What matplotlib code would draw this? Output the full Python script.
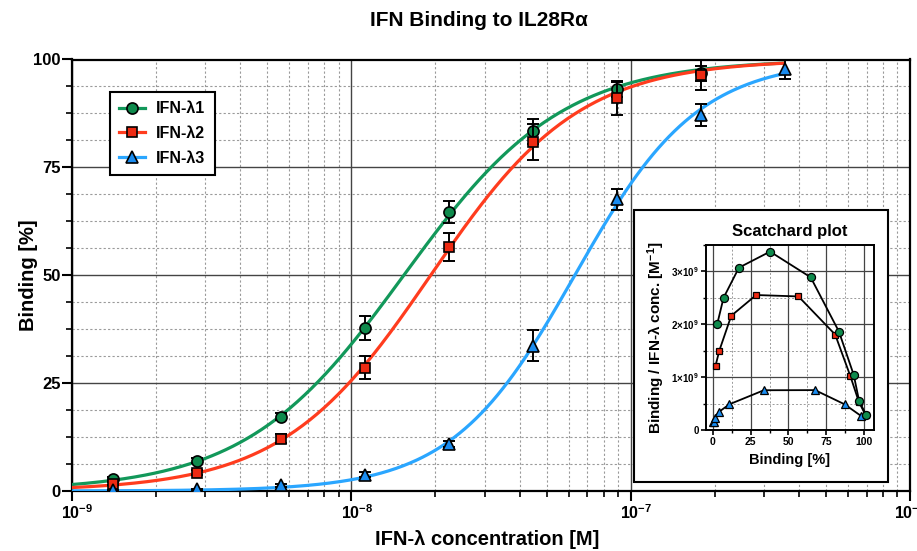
import numpy as np
import matplotlib
matplotlib.use('Agg')
import matplotlib.pyplot as plt
from matplotlib.lines import Line2D
from matplotlib.patches import Rectangle
from matplotlib.transforms import ScaledTranslation
from matplotlib.ticker import (LogLocator, MultipleLocator, NullFormatter,
                               FixedLocator, FixedFormatter)

plt.rcParams.update({
    'font.family': ['Liberation Sans', 'DejaVu Sans'],
    'font.weight': 'bold',
    'mathtext.fontset': 'custom',
    'mathtext.rm': 'Liberation Sans:bold',
    'mathtext.bf': 'Liberation Sans:bold',
    'mathtext.it': 'Liberation Sans:bold:italic',
    'mathtext.sf': 'Liberation Sans:bold',
})

# ---------------- data ----------------
conc = np.array([1.4e-9, 2.8e-9, 5.6e-9, 1.12e-8, 2.24e-8, 4.48e-8, 8.96e-8, 1.79e-7, 3.58e-7])
ifn_l1 = np.array([2.8, 7.0, 17.2, 37.8, 64.7, 83.4, 93.2, 96.8, 101.5])
ifn_l2 = np.array([1.7, 4.2, 12.1, 28.6, 56.6, 80.9, 91.0, 96.5, 101.0])
ifn_l3 = np.array([0.2, 0.4, 1.3, 3.8, 10.9, 33.7, 67.6, 87.1, 97.7])
err_l1 = np.array([0.5, 0.6, 0.8, 2.7, 2.5, 2.9, 1.9, 1.8, 0.0])
err_l2 = np.array([0.4, 0.6, 1.0, 2.6, 3.2, 4.2, 3.8, 3.5, 0.0])
err_l3 = np.array([0.1, 0.1, 0.3, 0.5, 0.8, 3.5, 2.5, 2.6, 2.3])
labels = ['IFN-λ1', 'IFN-λ2', 'IFN-λ3']
inset_yticks = [0, 1e9, 2e9, 3e9]
inset_yticklabels = ['0', '$\\mathdefault{1×10^{9}}$', '$\\mathdefault{2×10^{9}}$',
                     '$\\mathdefault{3×10^{9}}$']
inset_xticks = [0, 25, 50, 75, 100]

line_colors = ['#12985a', '#ff3c1e', '#2aa6ff']
face_colors = ['#0e8a4c', '#ee2a12', '#1a8cf0']
markers = ['o', 's', '^']
msizes = [8, 7, 8.5]
inset_msizes = [5.8, 5.0, 6.0]


def hill_fit(c, y):
    lc = np.log10(c)
    l50 = np.linspace(-9, -6, 751)[:, None, None]
    h = np.linspace(0.6, 2.5, 381)[None, :, None]
    pred = 100.0 / (1.0 + 10 ** ((l50 - lc[None, None, :]) * h))
    sse = ((pred - np.minimum(y, 100.0)[None, None, :]) ** 2).sum(-1)
    i, j = np.unravel_index(sse.argmin(), sse.shape)
    return l50[i, 0, 0], h[0, j, 0]


fig = plt.figure(figsize=(9.17, 5.51), dpi=100)
ax = fig.add_axes([72 / 917, (551 - 491) / 551, (910 - 72) / 917, (491 - 59.5) / 551])
ax.set_xscale('log')
ax.set_xlim(1e-9, 1e-6)
ax.set_ylim(0, 100)

series = [ifn_l1, ifn_l2, ifn_l3]
errs = [err_l1, err_l2, err_l3]
xs = np.logspace(-9, np.log10(conc[-1]), 400)
for k, (vals, e) in enumerate(zip(series, errs)):
    l50, h = hill_fit(conc, vals)
    ys = 100.0 / (1.0 + 10 ** ((l50 - np.log10(xs)) * h))
    ax.plot(xs, ys, color=line_colors[k], lw=2.3, zorder=3 + k * 0.1, solid_capstyle='butt')
for k, (vals, e) in enumerate(zip(series, errs)):
    ax.errorbar(conc, vals, yerr=e, fmt='none', ecolor='black', elinewidth=1.4,
                capsize=4, capthick=1.4, zorder=4 + k)
    ax.plot(conc, vals, ls='none', marker=markers[k], mfc=face_colors[k], mec='black',
            mew=1.2, ms=msizes[k], zorder=4.5 + k)

ax.yaxis.set_major_locator(MultipleLocator(25))
ax.yaxis.set_minor_locator(MultipleLocator(6.25))
ax.xaxis.set_major_locator(LogLocator(base=10))
ax.xaxis.set_minor_locator(LogLocator(base=10, subs=np.arange(2, 10)))
ax.xaxis.set_minor_formatter(NullFormatter())
ax.set_axisbelow(True)
ax.grid(which='major', color='#444444', lw=1.0, ls='-')
ax.grid(which='minor', color='#9a9a9a', lw=0.8, ls=(0, (2, 2)))
for s in ax.spines.values():
    s.set_linewidth(1.6)
ax.tick_params(which='major', length=7, width=1.5, direction='out', labelsize=12, pad=2)
ax.tick_params(which='minor', length=4.5, width=1.2, direction='out')
ax.tick_params(axis='y', pad=1)
ax.tick_params(axis='x', labelsize=11.5)

handles = [Line2D([], [], color=line_colors[k], lw=2.3, marker=markers[k],
                  mfc=face_colors[k], mec='black', mew=1.2, ms=msizes[k])
           for k in range(3)]
leg = ax.legend(handles, labels, loc='upper left', bbox_to_anchor=(0.045, 0.925),
                borderaxespad=0, fontsize=11.5, frameon=True, fancybox=False,
                edgecolor='black', framealpha=1, labelspacing=0.6, borderpad=0.6,
                handlelength=1.6, handletextpad=0.7)
leg.get_frame().set_linewidth(1.5)
leg.set_zorder(10)

fig.text(0.522, 0.962, 'IFN Binding to IL28Rα', ha='center', va='center',
         fontsize=15, fontweight='bold')
fig.text(0.531, 0.02, 'IFN-λ concentration [M]', ha='center', va='center',
         fontsize=14.5, fontweight='bold')
fig.text(0.031, 0.5, 'Binding [%]', ha='center', va='center', rotation=90,
         fontsize=14.5, fontweight='bold')

# ---------------- inset ----------------
box = Rectangle((634 / 917, (551 - 482) / 551), 254 / 917, 272 / 551,
                transform=fig.transFigure, fc='white', ec='black', lw=1.5, zorder=1)
fig.patches.append(box)

iax = fig.add_axes([706 / 917, (551 - 430) / 551, 168 / 917, 185 / 551], zorder=2)
iax.set_xlim(-4.6, 106.6)
iax.set_ylim(0, 3.5e9)
for k in [2, 1, 0]:
    vals = series[k]
    iax.plot(vals, vals / conc, color='black', lw=1.3, marker=markers[k],
             mfc=face_colors[k], mec='black', mew=0.9, ms=inset_msizes[k],
             zorder=3 + (2 - k), clip_on=False)
iax.xaxis.set_major_locator(FixedLocator(inset_xticks))
iax.xaxis.set_minor_locator(MultipleLocator(12.5))
iax.yaxis.set_major_locator(FixedLocator(inset_yticks))
iax.yaxis.set_major_formatter(FixedFormatter(inset_yticklabels))
iax.yaxis.set_minor_locator(MultipleLocator(0.5e9))
iax.set_axisbelow(True)
iax.grid(which='major', color='#444444', lw=0.9, ls='-')
iax.grid(which='minor', color='#9a9a9a', lw=0.7, ls=(0, (2, 2)))
for s in iax.spines.values():
    s.set_linewidth(1.4)
iax.tick_params(which='major', length=3.5, width=1.2, direction='out', pad=1.5)
iax.tick_params(which='minor', length=2.2, width=1.0, direction='out')
iax.tick_params(axis='x', labelsize=7.5)
iax.tick_params(axis='y', labelsize=7)

fig.text(0.8615, 1 - 231 / 551, 'Scatchard plot', ha='center', va='center',
         fontsize=12, fontweight='bold', zorder=3)
fig.text(0.8615, 1 - 460 / 551, 'Binding [%]', ha='center', va='center',
         fontsize=10.5, fontweight='bold', zorder=3)
fig.text(656 / 917, 1 - 338 / 551, 'Binding / IFN-λ conc. [M$^{-1}$]', ha='center',
         va='center', rotation=90, fontsize=11, fontweight='bold', zorder=3)

# centre the "10" of the inner decade labels on their ticks (superscript hangs right);
# leave the rightmost one so that its superscript stays inside the picture
fig.canvas.draw()
shift = ScaledTranslation(4 / 72, 0, fig.dpi_scale_trans)
locs = ax.xaxis.get_majorticklocs()
for t, loc in zip(ax.xaxis.get_major_ticks(), locs):
    if loc < 5e-7:
        t.label1.set_transform(t.label1.get_transform() + shift)

fig.savefig('out.png', dpi=100, facecolor='white')
